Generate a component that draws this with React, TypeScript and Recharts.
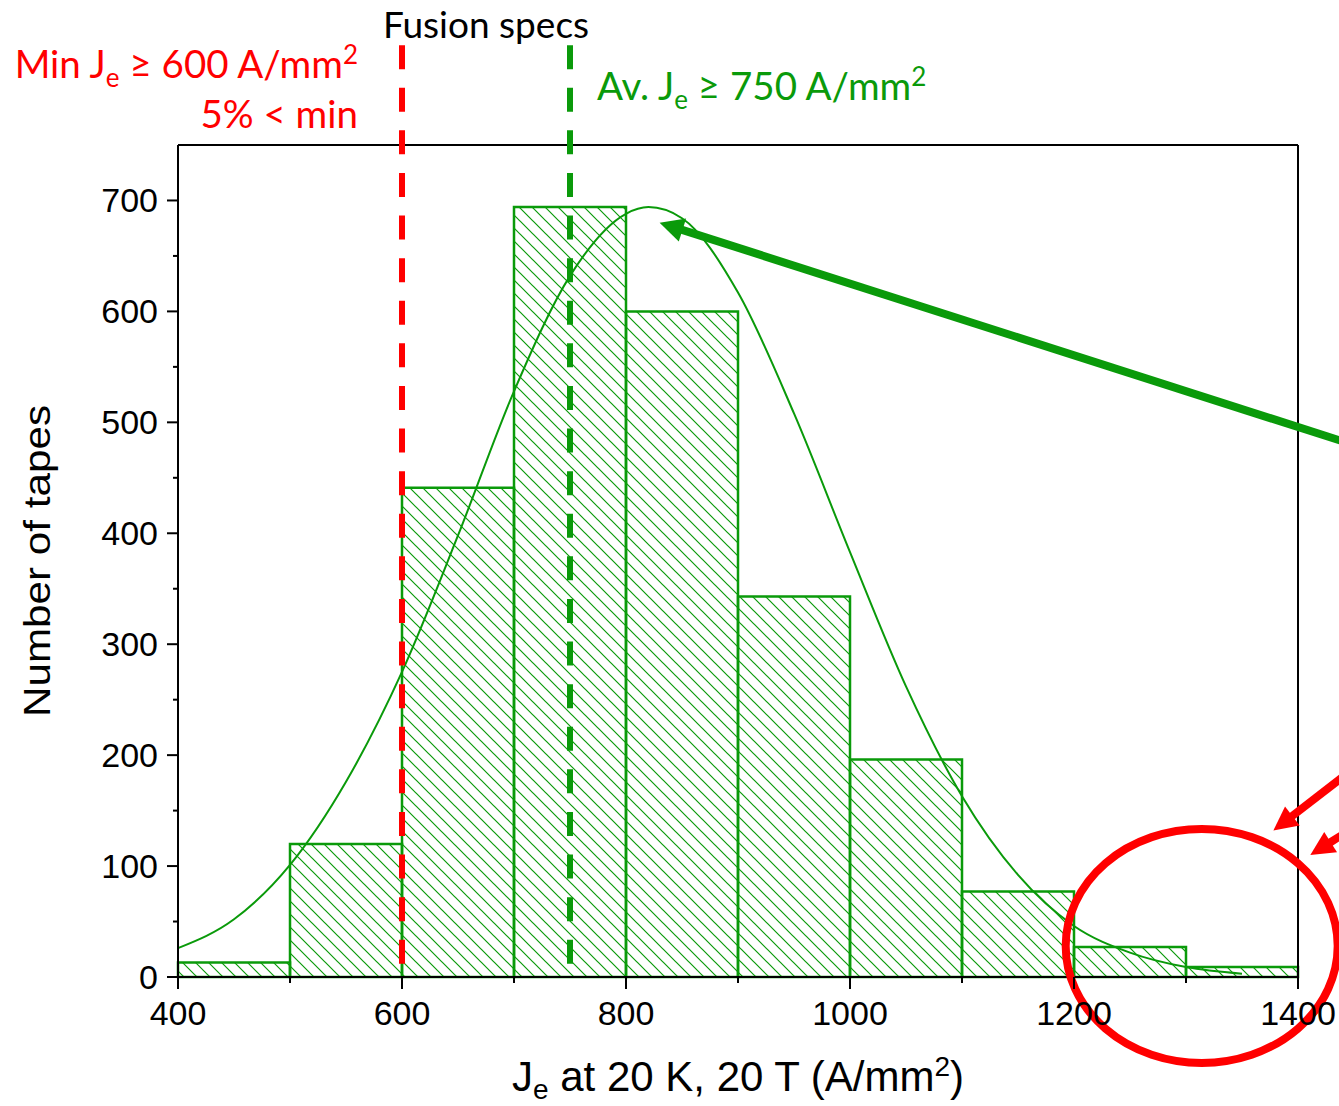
import React from 'react';
import {
  ComposedChart,
  Line,
  XAxis,
  YAxis,
  ReferenceArea,
  ReferenceLine,
  ReferenceDot,
} from 'recharts';

const GREEN = '#0A9A0A';
const RED = '#FF0000';
const INK = '#000000';
const AXIS_FONT = '"Liberation Sans", Arial, sans-serif';
const NOTE_FONT = 'Lato, "Noto Sans", sans-serif';

// histogram: bin edges (A/mm²) and number of tapes per bin
const binEdges = [400, 500, 600, 700, 800, 900, 1000, 1100, 1200, 1300, 1400];
const binCounts = [13, 120, 441, 694, 600, 343, 196, 77, 27, 9];

// fitted distribution curve
const fitJe = [400, 450, 500, 550, 600, 650, 700, 750, 800, 820, 850, 900, 950, 1000, 1050, 1100, 1150, 1200, 1250, 1300, 1350];
const fitCount = [26, 52, 101, 176, 275, 398, 528, 632, 688, 694, 684, 617, 508, 383, 262, 163, 92, 46, 22, 9, 3];

const xTicks = [400, 500, 600, 700, 800, 900, 1000, 1100, 1200, 1300, 1400];
const xLabeled = [400, 600, 800, 1000, 1200, 1400];
const yTicks = [0, 50, 100, 150, 200, 250, 300, 350, 400, 450, 500, 550, 600, 650, 700];
const yLabeled = [0, 100, 200, 300, 400, 500, 600, 700];

// spec lines
const MIN_JE = 600;
const AV_JE = 750;
const SPEC_TOP = 840;
const SPEC_BOTTOM = 8;

const fitData = fitJe.map((je, i) => ({ je, count: fitCount[i] }));

function XTick({ x, y, payload }: any) {
  const major = xLabeled.includes(payload.value);
  return (
    <g>
      <line x1={x} y1={y} x2={x} y2={y + (major ? 12 : 6)} stroke={INK} strokeWidth={2} />
      {major && (
        <text x={x} y={y + 48} textAnchor="middle" fontSize={34} fontFamily={AXIS_FONT} fill={INK}>
          {payload.value}
        </text>
      )}
    </g>
  );
}

function YTick({ x, y, payload }: any) {
  const major = yLabeled.includes(payload.value);
  return (
    <g>
      <line x1={x - (major ? 11 : 5)} y1={y} x2={x} y2={y} stroke={INK} strokeWidth={2} />
      {major && (
        <text x={x - 20} y={y + 12} textAnchor="end" fontSize={34} fontFamily={AXIS_FONT} fill={INK}>
          {payload.value}
        </text>
      )}
    </g>
  );
}

function YTitle({ viewBox }: any) {
  const cx = viewBox.x - 41;
  const cy = viewBox.y + viewBox.height / 2;
  return (
    <text
      x={cx}
      y={cy}
      transform={`rotate(-90, ${cx}, ${cy})`}
      textAnchor="middle"
      dominantBaseline="central"
      fontSize={37}
      textLength={312}
      lengthAdjust="spacingAndGlyphs"
      fontFamily={AXIS_FONT}
      fill={INK}
    >
      Number of tapes
    </text>
  );
}

function XTitle({ viewBox }: any) {
  const cx = viewBox.x + viewBox.width / 2;
  return (
    <text x={cx} y={viewBox.y + 114} textAnchor="middle" fontSize={42} fontFamily={AXIS_FONT} fill={INK}>
      J<tspan dy={8} fontSize={28}>e</tspan>
      <tspan dy={-8}> at 20 K, 20 T (A/mm</tspan>
      <tspan dy={-15} fontSize={28}>2</tspan>
      <tspan dy={15}>)</tspan>
    </text>
  );
}

function MinSpecNotes({ viewBox }: any) {
  const x = viewBox.x;
  const top = viewBox.y;
  return (
    <g fontFamily={NOTE_FONT}>
      <text x={x + 84} y={top - 7} textAnchor="middle" fontSize={37} fill={INK}>
        Fusion specs
      </text>
      <text x={x - 44} y={top + 33} textAnchor="end" fontSize={38.5} fill={RED}>
        Min J<tspan dy={9} fontSize={26}>e</tspan>
        <tspan dy={-9}> ≥ 600 A/mm</tspan>
        <tspan dy={-14} fontSize={26}>2</tspan>
      </text>
      <text x={x - 44} y={top + 83} textAnchor="end" fontSize={38.5} fill={RED}>
        5% &lt; min
      </text>
    </g>
  );
}

function AvSpecNotes({ viewBox }: any) {
  return (
    <text x={viewBox.x + 27} y={viewBox.y + 55} fontSize={38.5} fontFamily={NOTE_FONT} fill={GREEN}>
      Av. J<tspan dy={9} fontSize={26}>e</tspan>
      <tspan dy={-9}> ≥ 750 A/mm</tspan>
      <tspan dy={-14} fontSize={26}>2</tspan>
    </text>
  );
}

// thick line ending in a filled triangular head at the second point
const arrowShape = (color: string, width: number, head: number, half: number) => (props: any) => {
  const { x1, y1, x2, y2 } = props;
  const len = Math.hypot(x2 - x1, y2 - y1) || 1;
  const ux = (x2 - x1) / len;
  const uy = (y2 - y1) / len;
  const bx = x2 - ux * head;
  const by = y2 - uy * head;
  const px = -uy * half;
  const py = ux * half;
  return (
    <g>
      <line x1={x1} y1={y1} x2={bx + ux * 2} y2={by + uy * 2} stroke={color} strokeWidth={width} />
      <polygon points={`${x2},${y2} ${bx + px},${by + py} ${bx - px},${by - py}`} fill={color} />
    </g>
  );
};

const outlierRing = (props: any) => (
  <ellipse cx={props.cx} cy={props.cy} rx={136} ry={117} fill="none" stroke={RED} strokeWidth={8} />
);

export default function App() {
  return (
    <div style={{ position: 'absolute', left: 0, top: 0, width: 1339, height: 1106, background: '#fff' }}>
      <ComposedChart
        width={1339}
        height={1106}
        data={fitData}
        margin={{ top: 145, right: 41, bottom: 29, left: 78 }}
      >
        <defs>
          <pattern id="hatch" patternUnits="userSpaceOnUse" width={13} height={13}>
            <path d="M-3,10 L3,16 M0,0 L13,13 M10,-3 L16,3" stroke={GREEN} strokeWidth={1.2} />
          </pattern>
        </defs>
        <XAxis
          dataKey="je"
          type="number"
          domain={[400, 1400]}
          ticks={xTicks}
          interval={0}
          tickSize={0}
          tickMargin={0}
          tick={<XTick />}
          tickLine={false}
          axisLine={{ stroke: INK, strokeWidth: 2 }}
          height={100}
          label={(p: any) => <XTitle viewBox={p.viewBox} />}
        />
        <YAxis
          type="number"
          domain={[0, 750]}
          ticks={yTicks}
          interval={0}
          tickSize={0}
          tickMargin={0}
          tick={<YTick />}
          tickLine={false}
          axisLine={{ stroke: INK, strokeWidth: 2 }}
          width={100}
          label={(p: any) => <YTitle viewBox={p.viewBox} />}
        />
        {binCounts.map((c, i) => (
          <ReferenceArea
            key={i}
            x1={binEdges[i]}
            x2={binEdges[i + 1]}
            y1={0}
            y2={c}
            fill="url(#hatch)"
            fillOpacity={1}
            stroke={GREEN}
            strokeWidth={2.5}
            ifOverflow="visible"
          />
        ))}
        <ReferenceLine y={750} stroke={INK} strokeWidth={2} />
        <ReferenceLine x={1400} stroke={INK} strokeWidth={2} />
        <Line
          dataKey="count"
          type="monotone"
          stroke={GREEN}
          strokeWidth={2}
          dot={false}
          activeDot={false}
          isAnimationActive={false}
        />
        <ReferenceLine
          segment={[{ x: MIN_JE, y: SPEC_TOP }, { x: MIN_JE, y: SPEC_BOTTOM }]}
          ifOverflow="visible"
          stroke={RED}
          strokeWidth={6}
          strokeDasharray="24 18.6"
          label={(p: any) => <MinSpecNotes viewBox={p.viewBox} />}
        />
        <ReferenceLine
          segment={[{ x: AV_JE, y: SPEC_TOP }, { x: AV_JE, y: SPEC_BOTTOM }]}
          ifOverflow="visible"
          stroke={GREEN}
          strokeWidth={6}
          strokeDasharray="24 18.6"
          label={(p: any) => <AvSpecNotes viewBox={p.viewBox} />}
        />
        <ReferenceLine
          segment={[{ x: 1455, y: 478 }, { x: 830, y: 680 }]}
          ifOverflow="visible"
          shape={arrowShape(GREEN, 8, 24, 12)}
        />
        <ReferenceLine
          segment={[{ x: 1455, y: 192 }, { x: 1378, y: 132 }]}
          ifOverflow="visible"
          shape={arrowShape(RED, 8, 24, 12)}
        />
        <ReferenceLine
          segment={[{ x: 1455, y: 138 }, { x: 1411, y: 110 }]}
          ifOverflow="visible"
          shape={arrowShape(RED, 8, 24, 12)}
        />
        <ReferenceDot x={1314} y={28} ifOverflow="visible" shape={outlierRing} />
      </ComposedChart>
    </div>
  );
}
